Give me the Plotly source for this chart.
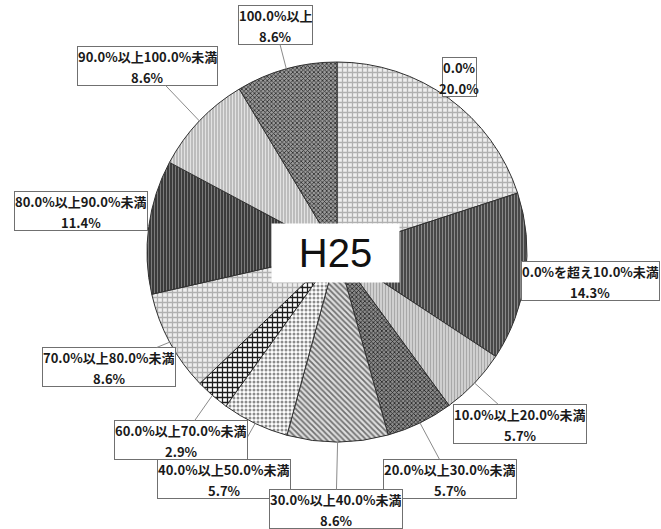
import math
import plotly.graph_objects as go

# Share of bodies by ratio band (H25)
categories = [
    "0.0%", "0.0%を超え10.0%未満", "10.0%以上20.0%未満", "20.0%以上30.0%未満",
    "30.0%以上40.0%未満", "40.0%以上50.0%未満", "60.0%以上70.0%未満",
    "70.0%以上80.0%未満", "80.0%以上90.0%未満", "90.0%以上100.0%未満", "100.0%以上",
]
shares = [20.0, 14.3, 5.7, 5.7, 8.6, 5.7, 2.9, 8.6, 11.4, 8.6, 8.6]
center_title = "H25"

# Fill pattern per slice: (shape, foreground, background, size)
patterns = [
    ("+", "#b0b0b0", "#efefef", 5),
    ("|", "#8a8a8a", "#3a3a3a", 3),
    ("|", "#a8a8a8", "#d8d8d8", 3),
    ("x", "#222222", "#8c8c8c", 3),
    ("\\", "#707070", "#dedede", 4),
    (".", "#8c8c8c", "#ffffff", 4),
    ("+", "#1e1e1e", "#ffffff", 5),
    ("+", "#b0b0b0", "#efefef", 5),
    ("|", "#7a7a7a", "#2e2e2e", 3),
    ("|", "#e2e2e2", "#b4b4b4", 3),
    ("x", "#2a2a2a", "#9a9a9a", 3),
]

# Label box centres (canvas pixels)
label_pos = [
    (459, 77), (590, 281), (520, 424), (450, 479), (336, 509),
    (224, 479), (181, 440), (109, 367), (81, 211), (147, 66), (275, 25),
]
# Label drawn on top of its neighbours
top_label = 4

W, H = 661, 529
cx, cy, R = 337, 252, 190
BOX_H = 38
label_font = dict(family="Noto Sans CJK JP", size=13, color="#1a1a1a")

fig = go.Figure()
fig.add_trace(go.Pie(
    labels=categories,
    values=shares,
    sort=False,
    direction="clockwise",
    rotation=0,
    textinfo="none",
    hoverinfo="label+percent",
    showlegend=False,
    domain=dict(x=[(cx - R) / W, (cx + R) / W], y=[1 - (cy + R) / H, 1 - (cy - R) / H]),
    marker=dict(
        colors=[p[2] for p in patterns],
        line=dict(color="#303030", width=1),
        pattern=dict(
            shape=[p[0] for p in patterns],
            fgcolor=[p[1] for p in patterns],
            bgcolor=[p[2] for p in patterns],
            size=[p[3] for p in patterns],
            solidity=0.45,
        ),
    ),
))

total = sum(shares)
label_groups = []
cum = 0.0
for name, v, (lx, ly) in zip(categories, shares, label_pos):
    theta = 2 * math.pi * (cum + v / 2) / total
    cum += v
    tx = cx + R * math.sin(theta)
    ty = cy - R * math.cos(theta)
    label_groups.append([
        # boxed category name with leader line to the slice edge
        dict(
            x=tx, y=ty, xref="x", yref="y",
            ax=lx, ay=ly, axref="x", ayref="y",
            text=f"<b>{name}</b>", height=BOX_H, valign="top",
            showarrow=True, arrowhead=0, arrowwidth=1, arrowcolor="#8a8a8a", standoff=0,
            font=label_font,
            bgcolor="white", bordercolor="#707070", borderwidth=1, borderpad=0,
            align="center",
        ),
        # percentage on the second line inside the box
        dict(
            x=lx, y=ly + 0.5, xref="x", yref="y", yanchor="top", xanchor="center",
            text=f"<b>{v:.1f}%</b>", showarrow=False, borderpad=0,
            font=label_font,
        ),
    ])

label_groups.append(label_groups.pop(top_label))
annotations = [a for group in label_groups for a in group]

annotations.append(dict(
    x=335, y=253, xref="x", yref="y", showarrow=False,
    text=center_title, width=127, height=58,
    font=dict(family="Liberation Sans", size=40, color="#111111"),
    bgcolor="white", borderpad=0,
))

fig.update_layout(
    width=W, height=H,
    margin=dict(l=0, r=0, t=0, b=0),
    paper_bgcolor="white", plot_bgcolor="rgba(0,0,0,0)",
    xaxis=dict(range=[0, W], visible=False, fixedrange=True),
    yaxis=dict(range=[H, 0], visible=False, fixedrange=True),
    annotations=annotations,
)

fig.write_html("out.html")
